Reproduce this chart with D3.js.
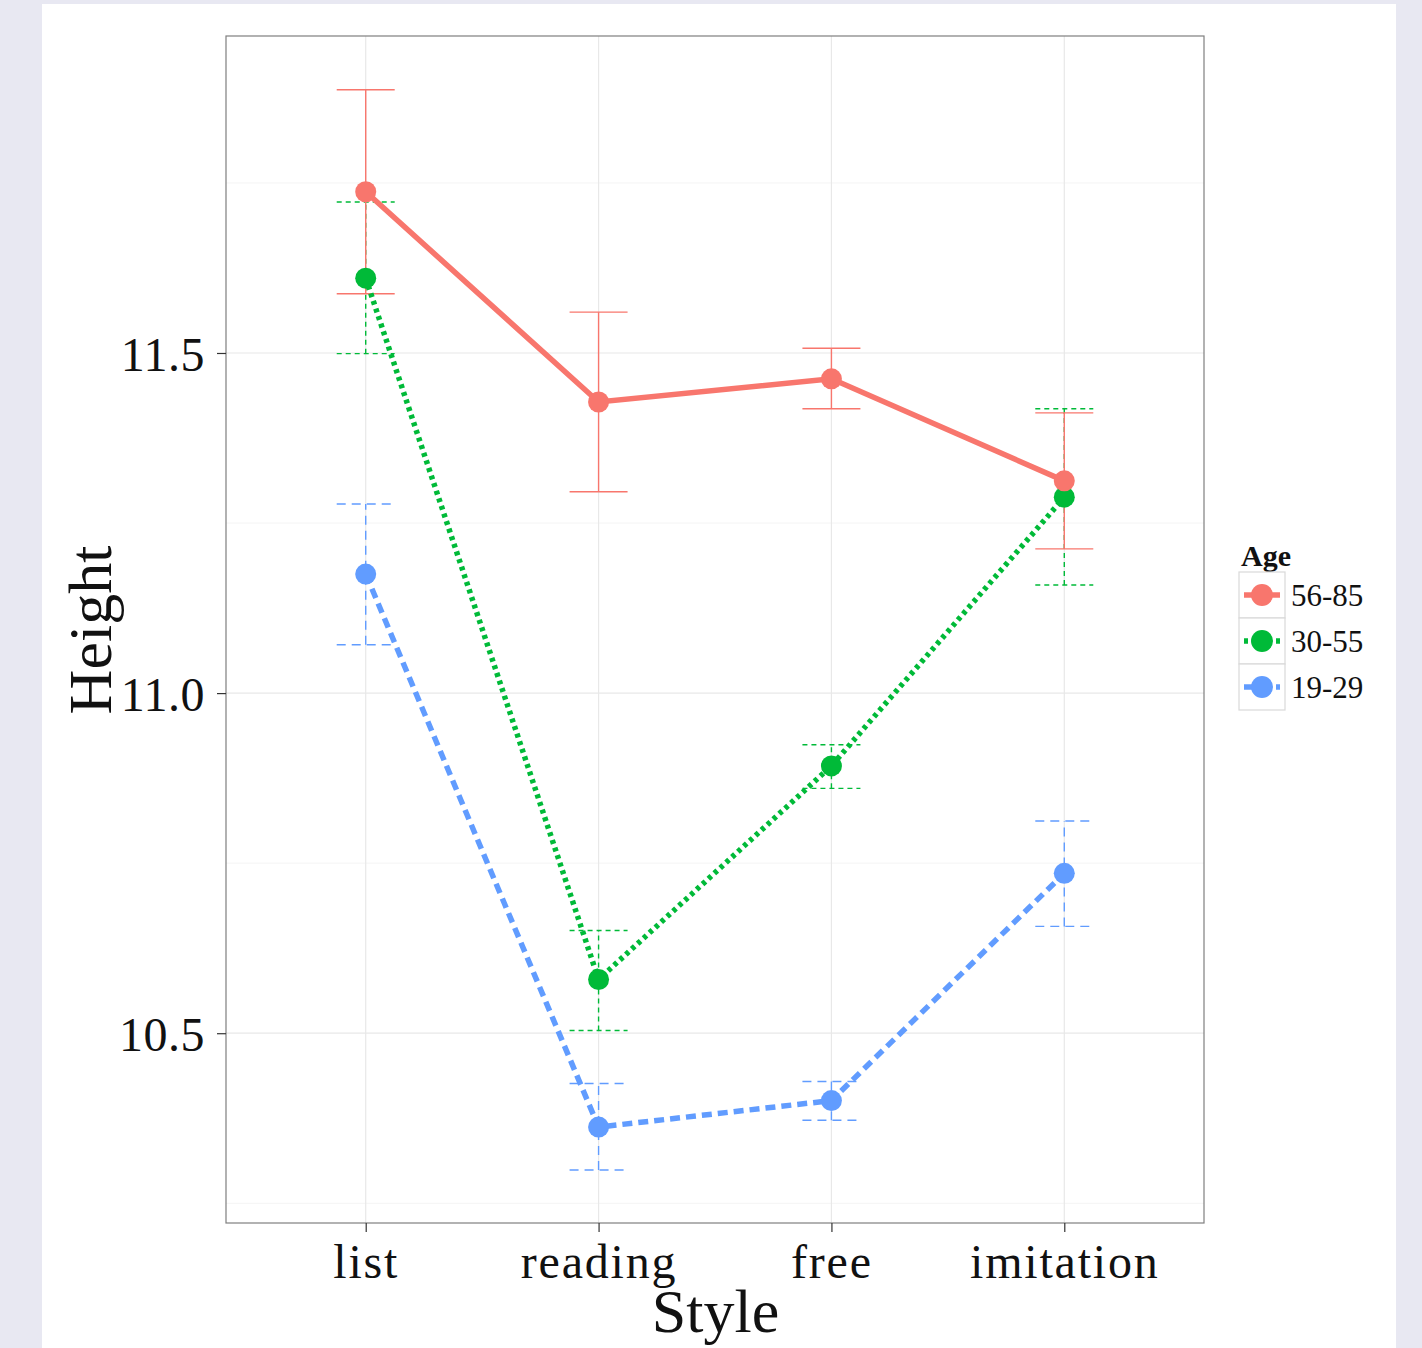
<!DOCTYPE html>
<html>
<head>
<meta charset="utf-8">
<script src="https://cdn.jsdelivr.net/npm/d3@7"></script>
<style>
  body { margin: 0; background: #e8e8f2; }
  svg { display: block; }
  text { font-family: "Liberation Serif", "DejaVu Serif", serif; }
</style>
</head>
<body>
<svg width="1422" height="1348"></svg>
<script>
// data
var styles = ["list", "reading", "free", "imitation"];
var ages = ["56-85", "30-55", "19-29"];
var colors = ["#f8766d", "#00ba38", "#619cff"];
var heights56 = [11.737, 11.428, 11.462, 11.312];
var lower56 = [11.587, 11.296, 11.418, 11.212];
var upper56 = [11.887, 11.560, 11.507, 11.412];
var heights30 = [11.610, 10.579, 10.893, 11.288];
var lower30 = [11.499, 10.504, 10.860, 11.159];
var upper30 = [11.722, 10.651, 10.924, 11.418];
var heights19 = [11.175, 10.362, 10.401, 10.735];
var lower19 = [11.071, 10.299, 10.372, 10.657];
var upper19 = [11.278, 10.426, 10.429, 10.812];
var yTicks = [10.5, 11.0, 11.5];
var yMinor = [10.25, 10.75, 11.25, 11.75];

var series = [
  { age: ages[0], mean: heights56, lo: lower56, hi: upper56, dash: null, errDash: null },
  { age: ages[1], mean: heights30, lo: lower30, hi: upper30, dash: "4,4", errDash: "5,4" },
  { age: ages[2], mean: heights19, lo: lower19, hi: upper19, dash: "10,6", errDash: "9,6" }
];
// draw order: blue, green, red (red on top)
var drawOrder = [2, 1, 0];

var svg = d3.select("svg");

svg.append("rect")
    .attr("x", 42).attr("y", 4)
    .attr("width", 1354).attr("height", 1344)
    .attr("fill", "white");

var pLeft = 226, pTop = 36, pRight = 1204, pBottom = 1223;

var x = d3.scalePoint()
    .domain(styles)
    .range([pLeft, pRight])
    .padding(0.6);

var y = d3.scaleLinear()
    .domain([10.221, 11.966])
    .range([pBottom, pTop]);

// grid
var grid = svg.append("g");
grid.selectAll(".minor")
    .data(yMinor).enter()
    .append("line")
    .attr("x1", pLeft).attr("x2", pRight)
    .attr("y1", function (d) { return y(d); })
    .attr("y2", function (d) { return y(d); })
    .attr("stroke", "#f4f4f4").attr("stroke-width", 1);
grid.selectAll(".major")
    .data(yTicks).enter()
    .append("line")
    .attr("x1", pLeft).attr("x2", pRight)
    .attr("y1", function (d) { return y(d); })
    .attr("y2", function (d) { return y(d); })
    .attr("stroke", "#e8e8e8").attr("stroke-width", 1.2);
grid.selectAll(".vmajor")
    .data(styles).enter()
    .append("line")
    .attr("y1", pTop).attr("y2", pBottom)
    .attr("x1", function (d) { return x(d); })
    .attr("x2", function (d) { return x(d); })
    .attr("stroke", "#e8e8e8").attr("stroke-width", 1.2);

// error bars
var halfW = 29;
drawOrder.forEach(function (si) {
    var s = series[si];
    var g = svg.append("g")
        .attr("stroke", colors[si])
        .attr("stroke-width", 1.4)
        .attr("fill", "none")
        .attr("stroke-dasharray", s.errDash);
    styles.forEach(function (st, i) {
        var cx = x(st);
        g.append("line").attr("x1", cx).attr("x2", cx)
            .attr("y1", y(s.lo[i])).attr("y2", y(s.hi[i]));
        g.append("line").attr("x1", cx - halfW).attr("x2", cx + halfW)
            .attr("y1", y(s.lo[i])).attr("y2", y(s.lo[i]));
        g.append("line").attr("x1", cx - halfW).attr("x2", cx + halfW)
            .attr("y1", y(s.hi[i])).attr("y2", y(s.hi[i]));
    });
});

// lines
var line = d3.line()
    .x(function (d) { return x(d.style); })
    .y(function (d) { return y(d.v); });

drawOrder.forEach(function (si) {
    var s = series[si];
    var pts = styles.map(function (st, i) { return { style: st, v: s.mean[i] }; });
    svg.append("path")
        .datum(pts)
        .attr("d", line)
        .attr("fill", "none")
        .attr("stroke", colors[si])
        .attr("stroke-width", 5.5)
        .attr("stroke-dasharray", s.dash);
});

// points
drawOrder.forEach(function (si) {
    var s = series[si];
    svg.append("g").selectAll("circle")
        .data(styles).enter()
        .append("circle")
        .attr("cx", function (d) { return x(d); })
        .attr("cy", function (d, i) { return y(s.mean[i]); })
        .attr("r", 10.5)
        .attr("fill", colors[si]);
});

// panel border
svg.append("rect")
    .attr("x", pLeft).attr("y", pTop)
    .attr("width", pRight - pLeft).attr("height", pBottom - pTop)
    .attr("fill", "none")
    .attr("stroke", "#7f7f7f").attr("stroke-width", 1.2);

// axes
var xAxis = svg.append("g")
    .attr("transform", "translate(0," + pBottom + ")")
    .call(d3.axisBottom(x).tickSize(9).tickPadding(11));
var yAxis = svg.append("g")
    .attr("transform", "translate(" + pLeft + ",0)")
    .call(d3.axisLeft(y).tickValues(yTicks).tickFormat(d3.format(".1f")).tickSize(9).tickPadding(12));

[xAxis, yAxis].forEach(function (a) {
    a.select(".domain").remove();
    a.selectAll(".tick line").attr("stroke", "#333").attr("stroke-width", 1.2);
    a.selectAll("text")
        .attr("fill", "#111")
        .style("font-family", '"Liberation Serif", serif')
        .style("font-size", "48px");
});
yAxis.selectAll("text").attr("dy", "0.36em").style("letter-spacing", "0.5px");
xAxis.selectAll("text").attr("dy", "0.72em").style("letter-spacing", "1.8px");

// axis titles
svg.append("text")
    .attr("x", x("reading") + 117)
    .attr("y", 1332)
    .attr("text-anchor", "middle")
    .style("font-size", "62px")
    .attr("fill", "#111")
    .text("Style");

svg.append("text")
    .attr("transform", "translate(111," + 630 + ") rotate(-90)")
    .attr("text-anchor", "middle")
    .style("font-size", "62px")
    .attr("fill", "#111")
    .text("Height");

// legend
var lg = svg.append("g").attr("transform", "translate(1239,572)");
lg.append("text")
    .attr("x", 2).attr("y", -6)
    .style("font-size", "30px")
    .style("font-weight", "bold")
    .attr("fill", "#111")
    .text("Age");

var keys = lg.selectAll(".key")
    .data(ages).enter()
    .append("g")
    .attr("transform", function (d, i) { return "translate(0," + (i * 46) + ")"; });

keys.append("rect")
    .attr("width", 46).attr("height", 46)
    .attr("fill", "white")
    .attr("stroke", "#d9d9d9").attr("stroke-width", 1.2);
keys.append("line")
    .attr("x1", 5).attr("x2", 41)
    .attr("y1", 23).attr("y2", 23)
    .attr("stroke", function (d, i) { return colors[i]; })
    .attr("stroke-width", 5.5)
    .attr("stroke-dasharray", function (d, i) { return series[i].dash; });
keys.append("circle")
    .attr("cx", 23).attr("cy", 23).attr("r", 11)
    .attr("fill", function (d, i) { return colors[i]; });
keys.append("text")
    .attr("x", 52).attr("y", 23)
    .attr("dy", "0.35em")
    .style("font-size", "31px")
    .attr("fill", "#111")
    .text(function (d) { return d; });
</script>
</body>
</html>
